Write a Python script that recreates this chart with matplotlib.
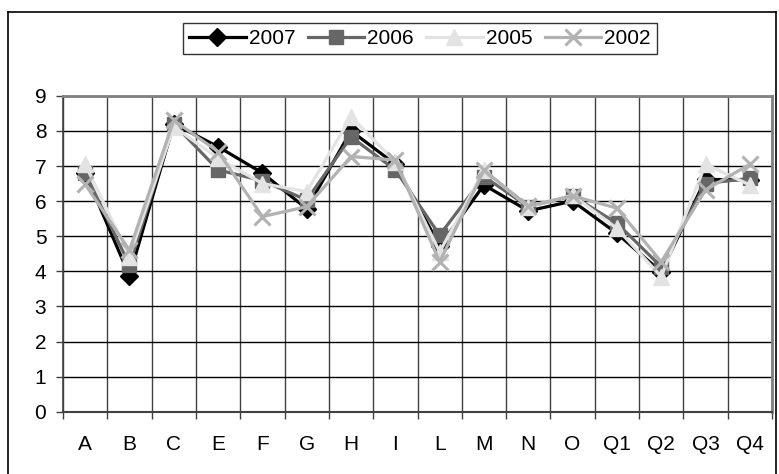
import matplotlib
matplotlib.use("Agg")
import matplotlib.pyplot as plt
from matplotlib.lines import Line2D

plt.rcParams['font.family'] = ['Liberation Sans', 'DejaVu Sans']

categories = ["A", "B", "C", "E", "F", "G", "H", "I", "L", "M", "N", "O", "Q1", "Q2", "Q3", "Q4"]
s2007 = [6.8, 3.87, 8.2, 7.55, 6.8, 5.78, 8.0, 7.05, 4.72, 6.46, 5.72, 6.0, 5.08, 3.98, 6.62, 6.6]
s2006 = [6.8, 4.18, 8.2, 6.89, 6.58, 6.03, 7.83, 6.89, 5.03, 6.7, 5.84, 6.15, 5.37, 4.13, 6.5, 6.65]
s2005 = [7.05, 4.42, 8.12, 7.22, 6.5, 6.27, 8.4, 7.12, 4.55, 6.88, 5.84, 6.17, 5.22, 3.85, 7.05, 6.46]
s2002 = [6.48, 4.6, 8.3, 7.41, 5.56, 5.84, 7.27, 7.17, 4.27, 6.88, 5.86, 6.15, 5.8, 4.27, 6.32, 7.05]
yticks = list(range(0, 10))

W, H = 779, 474
fig = plt.figure(figsize=(W / 100, H / 100), dpi=100)

# outer chart frame
fig.add_artist(Line2D([8 / W, 8 / W], [0, 1 - 12 / H], color="black", lw=1.2, transform=fig.transFigure))
fig.add_artist(Line2D([8 / W, 776 / W], [1 - 12 / H, 1 - 12 / H], color="black", lw=1.2, transform=fig.transFigure))
fig.add_artist(Line2D([776 / W, 776 / W], [0, 1 - 12 / H], color="black", lw=1.2, transform=fig.transFigure))

left, right = 63 / W, 772 / W
bottom, top = 1 - 411.7 / H, 1 - 95.8 / H
ax = fig.add_axes([left, bottom, right - left, top - bottom])

x = list(range(len(categories)))
series = [
    ("2007", s2007, "#000000", "D", 9, "#000000"),
    ("2006", s2006, "#666666", "s", 10, "#666666"),
    ("2005", s2005, "#E3E3E3", "^", 11, "#E3E3E3"),
    ("2002", s2002, "#B2B2B2", "x", 11, "#B2B2B2"),
]
for i, (lab, vals, col, mk, ms, mc) in enumerate(series):
    ax.plot(x, vals, color=col, lw=2.3, marker=mk, markersize=ms,
            markerfacecolor=mc, markeredgecolor=mc, markeredgewidth=2.2 if mk == "x" else 1,
            label=lab, zorder=3 + i, clip_on=False)

ax.set_xlim(-0.5, len(categories) - 0.5)
ax.set_ylim(0, 9)
ax.set_yticks(yticks)
ax.set_xticks(x)
ax.set_xticklabels(categories)
ax.set_xticks([i - 0.5 for i in range(len(categories) + 1)], minor=True)
ax.tick_params(axis="x", which="major", length=0, pad=17, labelsize=15)
ax.tick_params(axis="x", which="minor", length=5, width=1, color="#404040")
ax.tick_params(axis="y", which="major", length=5, width=1, color="#404040", labelsize=15, pad=7)

ax.grid(axis="y", which="major", color="black", lw=1)
ax.grid(axis="x", which="minor", color="#404040", lw=1)
ax.set_axisbelow(True)

for side in ["top", "right"]:
    ax.spines[side].set_color("#808080")
    ax.spines[side].set_linewidth(2)
ax.spines["left"].set_color("#404040")
ax.spines["left"].set_linewidth(1.2)
ax.spines["bottom"].set_color("#404040")
ax.spines["bottom"].set_linewidth(1.5)

leg = fig.legend(loc="center", bbox_to_anchor=(420 / W, 1 - 38.5 / H), ncol=4,
                 frameon=True, fancybox=False, edgecolor="black", fontsize=15,
                 handlelength=2.7, handletextpad=0.15, columnspacing=0.6,
                 borderpad=0.3, borderaxespad=0)
leg.get_frame().set_linewidth(1)

fig.savefig("out.png", dpi=100)
